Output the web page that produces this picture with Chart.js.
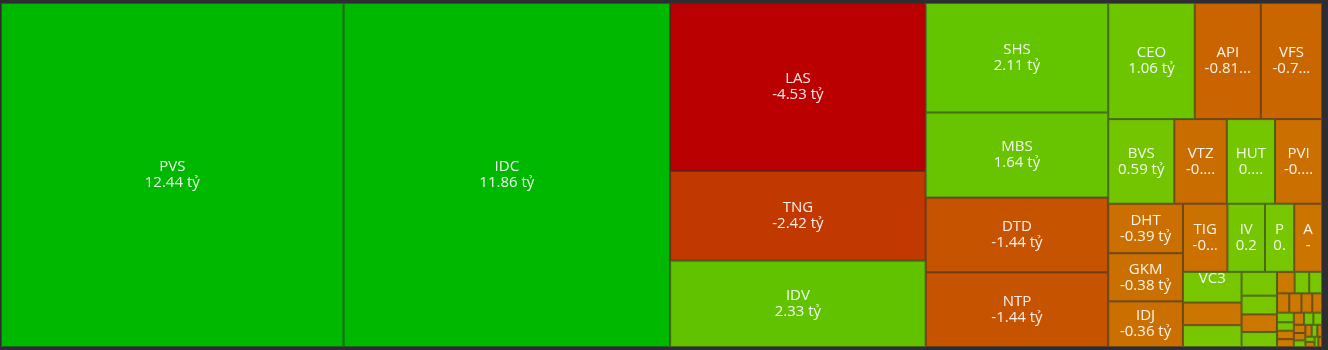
<!DOCTYPE html>
<html>
<head>
<meta charset="utf-8">
<script src="https://cdn.jsdelivr.net/npm/chart.js@4.4.0/dist/chart.umd.min.js"></script>
<style>
  html, body { margin: 0; padding: 0; background: #2e2e32; }
  #wrap { width: 1328px; height: 350px; position: relative; }
</style>
</head>
<body>
<div id="wrap"><canvas id="heatmap"></canvas></div>
<script>
// Tickers and their net value (tỷ)
const tickers = [
    'PVS', 'IDC', 'LAS', 'TNG', 'IDV', 'SHS', 'MBS', 'DTD', 'NTP',
    'CEO', 'API', 'VFS', 'BVS', 'VTZ', 'HUT', 'PVI', 'DHT', 'GKM', 'IDJ',
    'TIG', 'IV', 'P', 'A', 'VC3'
];
const values = [
    12.44, 11.86, -4.53, -2.42, 2.33, 2.11, 1.64, -1.44, -1.44,
    1.06, -0.81, -0.75, 0.59, -0.47, 0.43, -0.42, -0.39, -0.38, -0.36,
    -0.32, 0.27, 0.21, -0.20, 0.19
];
// the tiny unlabelled cells in the bottom right corner
const smallTickers = [
    'PLC', 'TVD', 'L14', 'BCC', 'VCS', 'HHC', 'DTK', 'NBC', 'TDN', 'SLS',
    'PSD', 'MST', 'DXP', 'VGS', 'CAP', 'KSV', 'PVC', 'PVB', 'HLD', 'SCG',
    'THD', 'TAR', 'VNR', 'BAB', 'NDN', 'DL1', 'PGS', 'SD5', 'HTP', 'SCI'
];
const smallValues = [
    -0.14, 0.135, 0.089, 0.070, -0.066, 0.056, -0.040, 0.033, 0.029, -0.025,
    -0.025, -0.022, -0.020, 0.017, 0.015, -0.015, -0.014, -0.013, 0.012, 0.011,
    -0.010, -0.009, 0.008, -0.008, 0.007, -0.006, 0.005, -0.005, 0.004, -0.004
];

const allTickers = tickers.concat(smallTickers);
const allValues = values.concat(smallValues);

// green for buying, orange -> red for selling
function cellColor(v) {
    if (v >= 0) {
        const r = Math.max(0, 120 - 10 * v);
        const g = Math.max(184, 198 - 1.15 * v);
        return 'rgb(' + Math.round(r) + ',' + Math.round(g) + ',0)';
    }
    const a = -v;
    const r = Math.max(186, 204 - 4 * a);
    const g = Math.max(0, 122 - 27 * a);
    return 'rgb(' + Math.round(r) + ',' + Math.round(g) + ',0)';
}

// squarified layout (golden ratio, same as d3.treemapSquarify)
function squarify(items, x0, y0, x1, y1) {
    const ratio = (1 + Math.sqrt(5)) / 2;
    const n = items.length;
    let value = items.reduce((s, d) => s + d.size, 0);
    let i0 = 0, i1 = 0;
    while (i0 < n) {
        const dx = x1 - x0, dy = y1 - y0;
        let sumValue = items[i1++].size;
        let minValue = sumValue, maxValue = sumValue;
        const alpha = Math.max(dy / dx, dx / dy) / (value * ratio);
        let beta = sumValue * sumValue * alpha;
        let minRatio = Math.max(maxValue / beta, beta / minValue);
        for (; i1 < n; ++i1) {
            const v = items[i1].size;
            sumValue += v;
            if (v < minValue) minValue = v;
            if (v > maxValue) maxValue = v;
            beta = sumValue * sumValue * alpha;
            const newRatio = Math.max(maxValue / beta, beta / minValue);
            if (newRatio > minRatio) { sumValue -= v; break; }
            minRatio = newRatio;
        }
        const row = items.slice(i0, i1);
        if (dx < dy) {
            // row across the top
            const yb = i1 < n ? y0 + dy * sumValue / value : y1;
            let x = x0;
            row.forEach(d => {
                const w = dx * d.size / sumValue;
                Object.assign(d, { x0: x, x1: x + w, y0: y0, y1: yb });
                x += w;
            });
            y0 = yb;
        } else {
            // column down the left side
            const xb = i1 < n ? x0 + dx * sumValue / value : x1;
            let y = y0;
            row.forEach(d => {
                const h = dy * d.size / sumValue;
                Object.assign(d, { x0: x0, x1: xb, y0: y, y1: y + h });
                y += h;
            });
            x0 = xb;
        }
        value -= sumValue;
        i0 = i1;
    }
    return items;
}

function fitText(ctx, text, avail) {
    if (ctx.measureText(text).width <= avail) return text;
    for (let k = text.length - 1; k >= 2; k--) {
        const t = text.slice(0, k).trimEnd() + '...';
        if (ctx.measureText(t).width <= avail) return t;
    }
    for (let k = text.length - 1; k >= 1; k--) {
        const t = text.slice(0, k);
        if (ctx.measureText(t).width <= avail) return t;
    }
    return '';
}

class TreemapController extends Chart.DatasetController {
    update() {}
    draw() {
        const chart = this.chart;
        const ctx = chart.ctx;
        const meta = this._cachedMeta;
        const xs = meta.xScale, ys = meta.yScale;
        const ds = chart.data.datasets[this.index];
        const labels = chart.data.labels;

        const items = ds.data.map((v, i) => ({ name: labels[i], value: v, size: Math.abs(v) }))
            .sort((a, b) => b.size - a.size);
        // lay out in a box with the same shape as the chart area, then map back to 0..1
        const aspect = (xs.right - xs.left) / (ys.bottom - ys.top);
        squarify(items, 0, 0, aspect, 1);

        ctx.save();
        items.forEach(d => {
            const left = xs.getPixelForValue(d.x0 / aspect);
            const right = xs.getPixelForValue(d.x1 / aspect);
            const top = ys.getPixelForValue(d.y0);
            const bottom = ys.getPixelForValue(d.y1);
            const w = right - left, h = bottom - top;

            ctx.fillStyle = cellColor(d.value);
            ctx.fillRect(left, top, w, h);
            ctx.strokeStyle = ds.borderColor;
            ctx.lineWidth = 1;
            ctx.strokeRect(left + 0.5, top + 0.5, w - 1, h - 1);

            if (h < 26 || w < 18) return;
            const cx = left + w / 2, cy = top + h / 2;
            const avail = w - 16;
            ctx.font = ds.labelFont;
            ctx.fillStyle = ds.labelColor;
            ctx.textAlign = 'center';
            ctx.textBaseline = 'middle';
            ctx.fillText(fitText(ctx, d.name, avail), cx, cy - 8);
            if (h >= 36) {
                ctx.fillText(fitText(ctx, d.value.toFixed(2) + ' tỷ', avail), cx, cy + 8);
            }
        });
        ctx.restore();
    }
}
TreemapController.id = 'treemap';
TreemapController.defaults = { datasetElementType: false, dataElementType: 'point' };
Chart.register(TreemapController);

new Chart(document.getElementById('heatmap'), {
    type: 'treemap',
    data: {
        labels: allTickers,
        datasets: [{
            data: allValues,
            borderColor: 'rgba(45, 45, 45, 0.6)',
            labelColor: 'rgba(255, 255, 255, 0.92)',
            labelFont: '15px "Open Sans"'
        }]
    },
    options: {
        responsive: true,
        maintainAspectRatio: false,
        animation: false,
        events: [],
        layout: { padding: { left: 1, right: 6, top: 3, bottom: 3 } },
        plugins: { legend: { display: false }, tooltip: { enabled: false } },
        scales: {
            x: { type: 'linear', min: 0, max: 1, display: false },
            y: { type: 'linear', min: 0, max: 1, reverse: true, display: false }
        }
    }
});
</script>
</body>
</html>
